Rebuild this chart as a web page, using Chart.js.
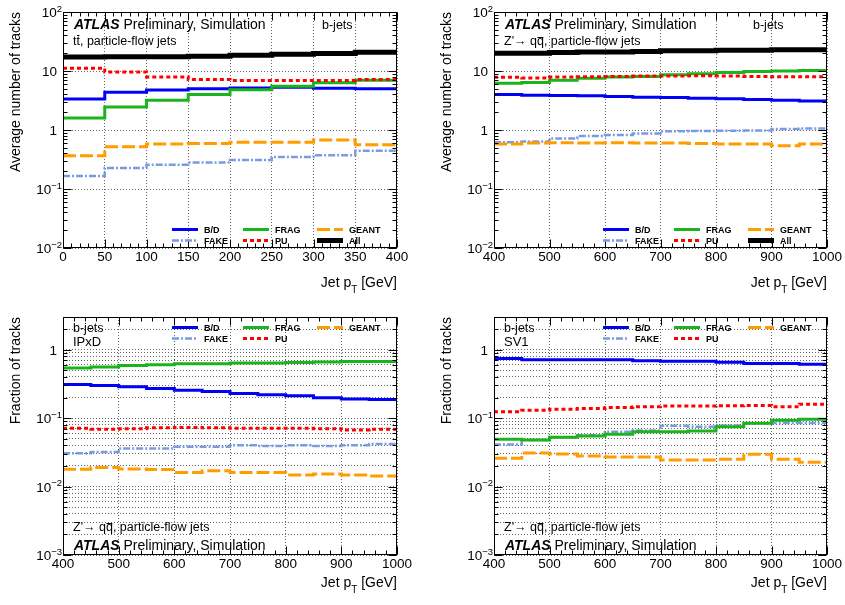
<!DOCTYPE html>
<html>
<head>
<meta charset="utf-8">
<script src="https://cdn.jsdelivr.net/npm/chart.js@4.4.1/dist/chart.umd.min.js"></script>
<style>
	body { margin: 0; background: #fff; }
	#wrap { position: relative; width: 845px; height: 605px; }
	canvas { position: absolute; }
</style>
</head>
<body>
<div id="wrap">
	<canvas id="ttbar" width="422" height="300" style="left:0;top:0"></canvas>
	<canvas id="zprime" width="423" height="300" style="left:422px;top:0"></canvas>
	<canvas id="ipxd" width="422" height="305" style="left:0;top:300px"></canvas>
	<canvas id="sv1" width="423" height="305" style="left:422px;top:300px"></canvas>
</div>
<script>
// bin edges (Jet pT, GeV)
var ttbarEdges = [0, 50, 100, 150, 200, 250, 300, 350, 400];
var zprimeEdges = [400, 450, 500, 550, 600, 650, 700, 750, 800, 850, 900, 950, 1000];

var seriesLabels = ['B/D', 'FAKE', 'FRAG', 'PU', 'GEANT', 'All'];

// ttbar, average number of tracks per bin
var ttbarBD = [3.35, 4.35, 4.75, 5.0, 5.15, 5.3, 5.1, 5.0];
var ttbarFake = [0.166, 0.227, 0.258, 0.28, 0.31, 0.35, 0.375, 0.445];
var ttbarFrag = [1.6, 2.45, 3.2, 4.0, 4.8, 5.5, 6.3, 7.0];
var ttbarPU = [11.1, 9.6, 7.9, 7.2, 6.9, 6.9, 6.9, 7.2];
var ttbarGeant = [0.367, 0.52, 0.58, 0.59, 0.62, 0.62, 0.68, 0.56];
var ttbarAll = [17.3, 17.5, 17.5, 17.8, 18.5, 19.2, 19.8, 20.7];

// Z' -> qq, average number of tracks per bin
var zprimeBD = [4.0, 3.9, 3.85, 3.8, 3.7, 3.6, 3.55, 3.45, 3.4, 3.3, 3.2, 3.1];
var zprimeFake = [0.62, 0.64, 0.72, 0.79, 0.82, 0.87, 0.95, 0.96, 0.97, 0.98, 1.04, 1.06];
var zprimeFrag = [6.2, 6.4, 7.0, 7.5, 7.9, 8.1, 8.6, 9.0, 9.4, 9.8, 10.0, 10.2];
var zprimePU = [7.8, 7.6, 7.9, 8.0, 8.1, 8.2, 8.2, 8.3, 8.2, 8.1, 8.0, 8.0];
var zprimeGeant = [0.58, 0.60, 0.61, 0.60, 0.61, 0.60, 0.60, 0.59, 0.58, 0.58, 0.54, 0.58];
var zprimeAll = [20, 20, 20.5, 21, 21, 21.5, 22, 22, 22.5, 22.5, 23, 23];

// IPxD, fraction of tracks
var ipxdBD = [0.31, 0.30, 0.286, 0.27, 0.256, 0.245, 0.229, 0.22, 0.212, 0.198, 0.19, 0.187];
var ipxdFake = [0.0306, 0.032, 0.036, 0.036, 0.038, 0.038, 0.040, 0.039, 0.040, 0.039, 0.040, 0.042];
var ipxdFrag = [0.54, 0.56, 0.585, 0.60, 0.62, 0.625, 0.64, 0.64, 0.65, 0.66, 0.67, 0.67];
var ipxdPU = [0.071, 0.069, 0.070, 0.072, 0.073, 0.072, 0.071, 0.071, 0.071, 0.070, 0.067, 0.069];
var ipxdGeant = [0.0179, 0.019, 0.018, 0.0177, 0.016, 0.017, 0.016, 0.016, 0.0148, 0.0153, 0.0148, 0.0143];

// SV1, fraction of tracks
var sv1BD = [0.74, 0.715, 0.715, 0.715, 0.71, 0.69, 0.675, 0.675, 0.655, 0.63, 0.63, 0.61];
var sv1Fake = [0.041, 0.048, 0.0525, 0.056, 0.063, 0.066, 0.077, 0.075, 0.078, 0.084, 0.085, 0.085];
var sv1Frag = [0.049, 0.048, 0.0525, 0.055, 0.058, 0.063, 0.063, 0.065, 0.075, 0.084, 0.093, 0.096];
var sv1PU = [0.124, 0.13, 0.135, 0.138, 0.143, 0.147, 0.15, 0.15, 0.152, 0.153, 0.147, 0.16];
var sv1Geant = [0.026, 0.031, 0.030, 0.028, 0.027, 0.027, 0.0244, 0.0244, 0.025, 0.0297, 0.025, 0.0226];

var FONT = '"Liberation Sans", Arial, Helvetica, sans-serif';
var GRID = 'rgba(0,0,0,0.6)';

var seriesStyle = {
	'B/D': {color: '#0000f5', width: 3, dash: [], slot: [0, 0]},
	'FAKE': {color: '#7b9be0', width: 2.5, dash: [7, 2, 2, 2], slot: [0, 1]},
	'FRAG': {color: '#1cb41c', width: 3, dash: [], slot: [1, 0]},
	'PU': {color: '#ff0000', width: 3, dash: [4, 3], slot: [1, 1]},
	'GEANT': {color: '#ff9c00', width: 3, dash: [13, 4], slot: [2, 0]},
	'All': {color: '#000000', width: 5, dash: [], slot: [2, 1]}
};

var atlasParts = [
	{text: 'ATLAS', size: 14, weight: 'bold', style: 'italic'},
	{text: ' Preliminary, Simulation', size: 14}
];
var ttbarParts = [
	{text: 't', size: 12.5},
	{text: 't', size: 12.5, over: 0.8},
	{text: ', particle-flow jets', size: 12.5}
];
var zprimeParts = [
	{text: 'Z\'\u2192 q', size: 12.5},
	{text: 'q', size: 12.5, over: 0.66},
	{text: ', particle-flow jets', size: 12.5}
];

function setFont(ctx, p) {
	ctx.font = (p.style || 'normal') + ' ' + (p.weight || 'normal') + ' ' + p.size + 'px ' + FONT;
}

function partsWidth(ctx, parts) {
	var w = 0;
	parts.forEach(function(p) {
		setFont(ctx, p);
		w += ctx.measureText(p.text).width;
	});
	return w;
}

function drawParts(ctx, x, y, parts) {
	parts.forEach(function(p) {
		setFont(ctx, p);
		var w = ctx.measureText(p.text).width;
		ctx.fillText(p.text, x, y + (p.dy || 0));
		if (p.over) {
			var oy = Math.round(y - p.size * p.over) + 0.5;
			ctx.beginPath();
			ctx.moveTo(x + 0.5, oy);
			ctx.lineTo(x + w - 0.5, oy);
			ctx.stroke();
		}
		x += w;
	});
}

function logTicks(min, max) {
	var ticks = [];
	for (var e = Math.floor(Math.log10(min)); e <= Math.ceil(Math.log10(max)); e++) {
		for (var m = 1; m < 10; m++) {
			var v = Number((m * Math.pow(10, e)).toPrecision(3));
			if (v >= min * 0.999 && v <= max * 1.001) {
				ticks.push({value: v, major: m === 1});
			}
		}
	}
	return ticks;
}

var panelPlugin = {
	id: 'panel',
	afterDraw: function(chart) {
		var cfg = chart.options.plugins.panel;
		var ctx = chart.ctx, a = chart.chartArea;
		var x = chart.scales.x, y = chart.scales.y;
		var L = Math.round(a.left) + 0.5, R = Math.round(a.right) - 0.5;
		var T = Math.round(a.top) + 0.5, B = Math.round(a.bottom) - 0.5;

		ctx.save();
		ctx.strokeStyle = '#000';
		ctx.fillStyle = '#000';
		ctx.lineWidth = 1;
		ctx.setLineDash([]);

		//Inward tick marks on all four sides
		ctx.beginPath();
		x.ticks.forEach(function(t) {
			var px = Math.round(x.getPixelForValue(t.value)) + 0.5;
			var len = t.major ? 8 : 4;
			ctx.moveTo(px, B); ctx.lineTo(px, B - len);
			ctx.moveTo(px, T); ctx.lineTo(px, T + len);
		});
		y.ticks.forEach(function(t) {
			var py = Math.round(y.getPixelForValue(t.value)) + 0.5;
			var len = t.major ? 8 : 4;
			ctx.moveTo(L, py); ctx.lineTo(L + len, py);
			ctx.moveTo(R, py); ctx.lineTo(R - len, py);
		});
		ctx.stroke();
		ctx.strokeRect(L, T, R - L, B - T);

		//Y tick labels with exponents
		ctx.textBaseline = 'alphabetic';
		y.ticks.forEach(function(t) {
			if (!t.major) return;
			var e = Math.round(Math.log10(t.value));
			var py = y.getPixelForValue(t.value) + 5;
			if (e === 0 || e === 1) {
				ctx.font = '13.5px ' + FONT;
				ctx.textAlign = 'right';
				ctx.fillText(e === 0 ? '1' : '10', a.left - 6, py);
				ctx.textAlign = 'left';
				return;
			}
			var sup = (e < 0 ? '\u2212' : '') + Math.abs(e);
			ctx.font = '13.5px ' + FONT;
			var w1 = ctx.measureText('10').width;
			ctx.font = '9.5px ' + FONT;
			var w2 = ctx.measureText(sup).width;
			var x0 = a.left - 1 - w1 - w2;
			ctx.font = '13.5px ' + FONT;
			ctx.fillText('10', x0, py);
			ctx.font = '9.5px ' + FONT;
			ctx.fillText(sup, x0 + w1, py - 5.5);
		});

		//X axis title
		var xTitle = [
			{text: 'Jet p', size: 14},
			{text: 'T', size: 10, dy: 6},
			{text: ' [GeV]', size: 14}
		];
		drawParts(ctx, a.right - partsWidth(ctx, xTitle), a.bottom + cfg.xTitleDy, xTitle);

		//Free texts
		cfg.texts.forEach(function(t) {
			var ty = t.fromBottom ? a.bottom - t.dy : a.top + t.dy;
			drawParts(ctx, a.left + t.dx, ty, t.parts);
		});

		//Legend
		var cols = [109, 180, 254];
		chart.data.datasets.forEach(function(ds) {
			var st = seriesStyle[ds.label];
			var lx = a.left + cols[st.slot[0]];
			var ly = Math.round(a.top + cfg.legendRows[st.slot[1]]) + 0.5;
			ctx.save();
			ctx.strokeStyle = ds.borderColor;
			ctx.lineWidth = ds.borderWidth;
			ctx.setLineDash(ds.borderDash);
			ctx.beginPath();
			ctx.moveTo(lx, ly);
			ctx.lineTo(lx + 26, ly);
			ctx.stroke();
			ctx.restore();
			ctx.font = 'bold 9px ' + FONT;
			ctx.fillText(ds.label, lx + 32, ly + 3.5);
		});
		ctx.restore();
	}
};

function makePanel(id, cfg) {
	var box = cfg.box;
	var datasets = cfg.series.map(function(values, i) {
		var label = seriesLabels[i];
		var st = seriesStyle[label];
		return {
			label: label,
			data: cfg.edges.map(function(edge, k) {
				return {x: edge, y: values[Math.min(k, values.length - 1)]};
			}),
			borderColor: st.color,
			borderWidth: st.width,
			borderDash: st.dash,
			stepped: 'before',
			pointRadius: 0,
			fill: false,
			order: -i
		};
	});

	return new Chart(document.getElementById(id), {
		type: 'line',
		data: {datasets: datasets},
		plugins: [panelPlugin],
		options: {
			responsive: false,
			animation: false,
			events: [],
			layout: {
				padding: {left: 0, top: box.t, right: box.w - box.r, bottom: 0}
			},
			plugins: {
				legend: {display: false},
				tooltip: {enabled: false},
				panel: cfg
			},
			scales: {
				x: {
					type: 'linear',
					min: cfg.edges[0],
					max: cfg.edges[cfg.edges.length - 1],
					afterBuildTicks: function(scale) {
						var ticks = [];
						for (var v = scale.min; v <= scale.max; v += cfg.xMinor) {
							ticks.push({value: v, major: v % cfg.xMajor === 0});
						}
						scale.ticks = ticks;
					},
					afterFit: function(scale) {
						scale.height = box.h - box.b;
					},
					ticks: {
						autoSkip: false,
						maxRotation: 0,
						minRotation: 0,
						padding: 1,
						color: '#000',
						font: {family: FONT, size: 13.5},
						callback: function(value) {
							return value % cfg.xMajor === 0 ? String(value) : '';
						}
					},
					grid: {
						drawTicks: false,
						lineWidth: 1,
						color: function(c) {
							return c.tick && c.tick.major ? GRID : 'rgba(0,0,0,0)';
						}
					},
					border: {display: false, dash: [1, 2]}
				},
				y: {
					type: 'logarithmic',
					min: cfg.yMin,
					max: cfg.yMax,
					bounds: 'data',
					afterBuildTicks: function(scale) {
						scale.ticks = logTicks(cfg.yMin, cfg.yMax);
					},
					afterFit: function(scale) {
						scale.width = box.l;
					},
					ticks: {display: false},
					grid: {
						drawTicks: false,
						lineWidth: 1,
						color: function(c) {
							if (!c.tick) return 'rgba(0,0,0,0)';
							return (c.tick.major || cfg.minorGrid) ? GRID : 'rgba(0,0,0,0)';
						}
					},
					border: {display: false, dash: [1, 2]},
					title: {
						display: true,
						text: cfg.yTitle,
						align: 'end',
						color: '#000',
						font: {family: FONT, size: 14},
						padding: {top: box.l - 47 - 8.4, bottom: 0}
					}
				}
			}
		}
	});
}

makePanel('ttbar', {
	edges: ttbarEdges,
	series: [ttbarBD, ttbarFake, ttbarFrag, ttbarPU, ttbarGeant, ttbarAll],
	xMajor: 50, xMinor: 10,
	yMin: 0.01, yMax: 100, minorGrid: false,
	yTitle: 'Average number of tracks',
	box: {w: 422, h: 300, l: 63, t: 12, r: 397, b: 248},
	xTitleDy: 39,
	legendRows: [217, 228],
	texts: [
		{dx: 11, dy: 17, parts: atlasParts},
		{dx: 10, dy: 33, parts: ttbarParts},
		{dx: 259, dy: 17, parts: [{text: 'b-jets', size: 12.5}]}
	]
});

makePanel('zprime', {
	edges: zprimeEdges,
	series: [zprimeBD, zprimeFake, zprimeFrag, zprimePU, zprimeGeant, zprimeAll],
	xMajor: 100, xMinor: 20,
	yMin: 0.01, yMax: 100, minorGrid: false,
	yTitle: 'Average number of tracks',
	box: {w: 423, h: 300, l: 72, t: 12, r: 405, b: 248},
	xTitleDy: 39,
	legendRows: [217, 228],
	texts: [
		{dx: 11, dy: 17, parts: atlasParts},
		{dx: 10, dy: 33, parts: zprimeParts},
		{dx: 259, dy: 17, parts: [{text: 'b-jets', size: 12.5}]}
	]
});

makePanel('ipxd', {
	edges: zprimeEdges,
	series: [ipxdBD, ipxdFake, ipxdFrag, ipxdPU, ipxdGeant],
	xMajor: 100, xMinor: 20,
	yMin: 0.001, yMax: 3, minorGrid: true,
	yTitle: 'Fraction of tracks',
	box: {w: 422, h: 305, l: 63, t: 17, r: 397, b: 255},
	xTitleDy: 32,
	legendRows: [10, 21],
	texts: [
		{dx: 10, dy: 15, parts: [{text: 'b-jets', size: 12.5}]},
		{dx: 10, dy: 29, parts: [{text: 'IPxD', size: 13}]},
		{dx: 10, dy: 24, fromBottom: true, parts: zprimeParts},
		{dx: 11, dy: 5, fromBottom: true, parts: atlasParts}
	]
});

makePanel('sv1', {
	edges: zprimeEdges,
	series: [sv1BD, sv1Fake, sv1Frag, sv1PU, sv1Geant],
	xMajor: 100, xMinor: 20,
	yMin: 0.001, yMax: 3, minorGrid: true,
	yTitle: 'Fraction of tracks',
	box: {w: 423, h: 305, l: 72, t: 17, r: 405, b: 255},
	xTitleDy: 32,
	legendRows: [10, 21],
	texts: [
		{dx: 10, dy: 15, parts: [{text: 'b-jets', size: 12.5}]},
		{dx: 10, dy: 29, parts: [{text: 'SV1', size: 13}]},
		{dx: 10, dy: 24, fromBottom: true, parts: zprimeParts},
		{dx: 11, dy: 5, fromBottom: true, parts: atlasParts}
	]
});
</script>
</body>
</html>
